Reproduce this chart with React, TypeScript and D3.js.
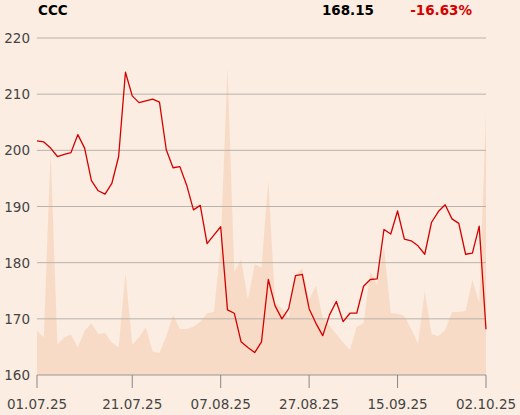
import React from "react";
import * as d3 from "d3";

const title = "CCC";
const lastPrice = "168.15";
const changePct = "-16.63%";

const prices = [
  201.7, 201.5, 200.4, 198.9, 199.3, 199.6, 202.8, 200.4, 194.6, 192.8,
  192.2, 194.1, 198.9, 213.9, 209.7, 208.5, 208.8, 209.1, 208.6, 200.1,
  196.9, 197.1, 193.8, 189.4, 190.2, 183.4, 184.9, 186.4, 171.6, 171.0,
  165.9, 164.9, 164.0, 165.9, 177.0, 172.3, 170.0, 171.8, 177.7, 177.9,
  171.8, 169.2, 167.0, 170.7, 173.1, 169.5, 171.0, 171.0, 175.8, 177.0,
  177.1, 185.9, 185.1, 189.2, 184.2, 183.9, 183.0, 181.5, 187.2, 189.1,
  190.3, 187.8, 187.0, 181.5, 181.7, 186.5, 168.15,
];

const volumes = [
  790, 670, 3990, 540, 670, 720, 490, 790, 920, 730,
  750, 580, 490, 1820, 540, 670, 850, 420, 390, 690,
  1070, 820, 820, 860, 950, 1100, 1120, 2290, 5480, 1840,
  2060, 1350, 1970, 1910, 3470, 1280, 1190, 1010, 1790, 1900,
  1340, 1590, 1020, 880, 730, 580, 450, 860, 920, 1840,
  1610, 2290, 1100, 1090, 1050, 820, 560, 1490, 730, 690,
  800, 1120, 1120, 1140, 1690, 1280, 4660,
];

const yTicks = [160, 170, 180, 190, 200, 210, 220];
const xTickIndex = [0, 14, 27, 40, 53, 66];
const xTickLabels = ["01.07.25", "21.07.25", "07.08.25", "27.08.25", "15.09.25", "02.10.25"];

export default function App() {
  const W = 520;
  const H = 415;
  const left = 37;
  const right = 486;
  const top = 38;
  const bottom = 375;

  const x = d3.scaleLinear().domain([0, prices.length - 1]).range([left, right]);
  const y = d3.scaleLinear().domain([160, 220]).range([bottom, top]);
  const yv = d3.scaleLinear().domain([0, 6000]).range([bottom, top]);

  const area = d3
    .area<number>()
    .x((_, i) => x(i))
    .y0(bottom)
    .y1((d) => yv(d));
  const line = d3
    .line<number>()
    .x((_, i) => x(i))
    .y((d) => y(d));

  const font = "'DejaVu Sans', sans-serif";

  return (
    <svg
      width={W}
      height={H}
      style={{ position: "absolute", left: 0, top: 0 }}
      fontFamily={font}
    >
      <rect x={0} y={0} width={W} height={H} fill="#fbede1" />
      <path d={area(volumes) || ""} fill="#f8dbc6" />
      {yTicks.map((t) => (
        <g key={t}>
          <line
            x1={left}
            x2={right}
            y1={y(t)}
            y2={y(t)}
            stroke={t === 160 ? "#9a9590" : "#b8b2ab"}
            strokeWidth={1}
          />
          <text
            x={30}
            y={y(t) + 5}
            textAnchor="end"
            fontSize={13.5}
            fill="#444"
          >
            {t}
          </text>
        </g>
      ))}
      {xTickIndex.map((idx, k) => (
        <g key={idx}>
          <line
            x1={x(idx)}
            x2={x(idx)}
            y1={bottom}
            y2={bottom + 13}
            stroke="#888"
            strokeWidth={1}
          />
          <text
            x={x(idx)}
            y={409}
            textAnchor="middle"
            fontSize={13.5}
            fill="#444"
          >
            {xTickLabels[k]}
          </text>
        </g>
      ))}
      <path d={line(prices) || ""} fill="none" stroke="#d40000" strokeWidth={1.3} strokeLinejoin="round" />
      <text x={38} y={15} fontSize={13.5} fontWeight="bold" fill="#000">
        {title}
      </text>
      <text x={374} y={15} fontSize={13.5} fontWeight="bold" fill="#000" textAnchor="end">
        {lastPrice}
      </text>
      <text x={472} y={15} fontSize={13.5} fontWeight="bold" fill="#d40000" textAnchor="end">
        {changePct}
      </text>
    </svg>
  );
}
